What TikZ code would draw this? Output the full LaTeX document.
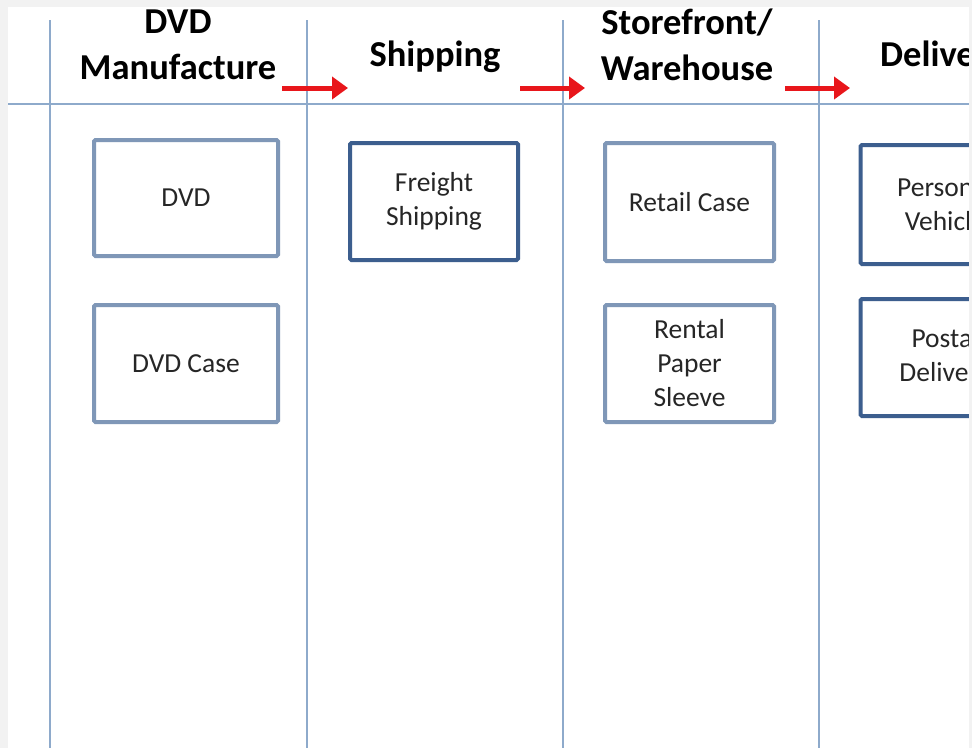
\documentclass[tikz,border=0pt]{standalone}
\usepackage{fontspec}
\setmainfont{Carlito}
\usetikzlibrary{arrows.meta}
\definecolor{laneline}{HTML}{8EAACB}
\definecolor{boxlight}{HTML}{7F97B7}
\definecolor{boxdark}{HTML}{3C5E8E}
\definecolor{flowred}{HTML}{E8161B}
\tikzset{
  head/.style={font=\bfseries\fontsize{36.5}{46}\selectfont, align=center, inner sep=0pt},
  item/.style={draw=#1, line width=4pt, fill=white, text=black!85,
               font=\fontsize{27.5}{34}\selectfont,
               align=center, inner sep=0pt, rounded corners=1.5pt},
  flow/.style={draw=flowred, line width=5pt, -{Triangle[length=16pt,width=22pt]}}
}
\begin{document}
\begin{tikzpicture}[x=1pt, y=-1pt]
  \useasboundingbox (0,0) rectangle (972,748);
  \clip (0,0) rectangle (972,748);
  \fill[black!5] (0,0) rectangle (972,748);
  \fill[white] (8,7) rectangle (969,748);
  % swimlane grid
  \draw[laneline, line width=1.5pt] (8,104) -- (969,104);
  \foreach \x in {50, 307, 563, 819}
    \draw[laneline, line width=1.5pt] (\x, 20) -- (\x, 748);
  % lane headers
  \node[head] (manuf) at (178, 45) {DVD\\Manufacture};
  \node[head] (ship) at (435, 57) {Shipping};
  \node[head] (store) at (687, 45) {Storefront/\\Warehouse};
  \node[head, anchor=west] (deliv) at (880, 57) {Delivery};
  % flow arrows
  \foreach \a/\b/\y in {282/348/1, 520/585/2, 785/850/3}{
    \coordinate (f\y s) at (\a, 88);
    \coordinate (f\y e) at (\b, 88);
    \draw[flow] (f\y s) -- (f\y e);}
  % items
  \node[item=boxlight, minimum width=184pt, minimum height=116pt] (dvd) at (186, 198) {DVD};
  \node[item=boxlight, minimum width=184pt, minimum height=117pt] (dvdcase) at (186, 363.5) {DVD Case};
  \node[item=boxdark, minimum width=168pt, minimum height=117pt] (freight) at (434, 201.5) {Freight\\Shipping};
  \node[item=boxlight, minimum width=169pt, minimum height=118pt] (retail) at (689.5, 202) {Retail Case};
  \node[item=boxlight, minimum width=169pt, minimum height=117pt] (rental) at (689.5, 363.5) {Rental\\Paper\\Sleeve};
  \node[item=boxdark, minimum width=169pt, minimum height=119pt] (personal) at (945, 204.5) {Personal\\Vehicle};
  \node[item=boxdark, minimum width=169pt, minimum height=117pt] (postal) at (945, 357.5) {Postal\\Delivery};
  \fill[black!5] (969,0) rectangle (972,748);
\end{tikzpicture}
\end{document}
